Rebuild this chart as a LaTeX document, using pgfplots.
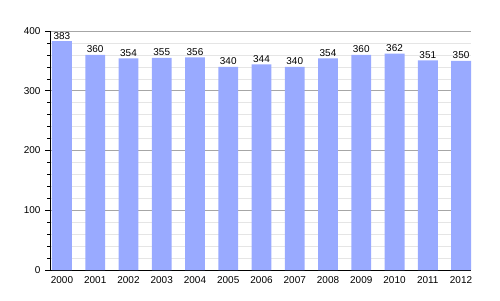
\documentclass[border=0pt]{standalone}
\usepackage{pgfplots}
\pgfplotsset{compat=1.18}
\usepackage{fontspec}
\setmainfont{Liberation Sans}
\definecolor{barblue}{RGB}{153,170,255}
\begin{document}
\begin{tikzpicture}[x=1bp,y=1bp]
\path[use as bounding box] (-50,-30) rectangle (450,270);
\begin{axis}[
  at={(0,0)}, anchor=south west,
  scale only axis, width=421bp, height=239bp,
  xmin=-0.36, xmax=12.3, ymin=0, ymax=400,
  xtick={0,...,12},
  xticklabels={2000,2001,2002,2003,2004,2005,2006,2007,2008,2009,2010,2011,2012},
  ytick={0,100,200,300,400},
  minor ytick={20,40,60,80,120,140,160,180,220,240,260,280,320,340,360,380},
  ymajorgrids, yminorgrids,
  major grid style={draw=black!35, line width=0.6bp},
  minor grid style={draw=black!10, line width=0.6bp},
  axis x line*=bottom, axis y line*=left,
  x axis line style={-, line width=0.8bp},
  y axis line style={-, line width=0.8bp},
  x tick style={draw=none},
  y tick style={line width=0.6bp, black},
  tick align=outside,
  major tick length=5bp, minor tick length=3bp,
  tick label style={font=\fontsize{10}{11}\selectfont},
  /pgf/number format/assume math mode=true,
  xticklabel style={yshift=2bp},
  yticklabel style={xshift=-1bp},
  nodes near coords,
  every node near coord/.append style={font=\fontsize{10}{11}\selectfont, black, yshift=-1.5bp},
  clip=false,
]
\addplot[ybar, bar width=0.6, fill=barblue, draw=none, bar shift=0] coordinates {
(0,383) (1,360) (2,354) (3,355) (4,356) (5,340) (6,344) (7,340) (8,354) (9,360) (10,362) (11,351) (12,350)
};
\end{axis}
\end{tikzpicture}
\end{document}
